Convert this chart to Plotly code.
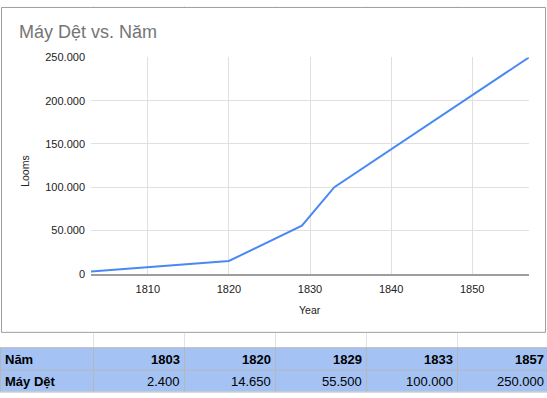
import plotly.graph_objects as go

# ---- data ----
years = [1803, 1820, 1829, 1833, 1857]
looms = [2400, 14650, 55500, 100000, 250000]
row_labels = ["Năm", "Máy Dệt"]
title_text = "Máy Dệt vs. Năm"
x_title = "Year"
y_title = "Looms"

W, H = 547, 398
FONT = "Liberation Sans, Arial, sans-serif"


def px(x):
    return x / W


def py(y):
    return 1 - y / H


def fmt_thousands(v):
    return f"{v:,}".replace(",", ".")


fig = go.Figure()
fig.add_trace(go.Scatter(
    x=years, y=looms, mode="lines",
    line=dict(color="#4a89f3", width=2),
    hoverinfo="skip", showlegend=False,
))

shapes = []
annotations = []

# chart border
shapes.append(dict(type="rect", xref="paper", yref="paper",
                   x0=px(1.5), x1=px(545.5), y0=py(336.5), y1=py(1.5),
                   line=dict(color="#9e9e9e", width=1), layer="below"))

# spreadsheet column boundaries (table)
col_edges = [93, 184, 275, 366, 457, 548]
row_edges = [337, 352, 375, 397.5]
# blue rows
shapes.append(dict(type="rect", xref="paper", yref="paper",
                   x0=px(0), x1=px(W), y0=py(row_edges[3]), y1=py(row_edges[1]),
                   fillcolor="#a4c2f4", line=dict(width=0), layer="below"))
for cx in col_edges[:-1]:
    shapes.append(dict(type="line", xref="paper", yref="paper",
                       x0=px(cx + 0.5), x1=px(cx + 0.5), y0=py(row_edges[0]), y1=py(row_edges[1]),
                       line=dict(color="#e2e2e2", width=1), layer="below"))
    shapes.append(dict(type="line", xref="paper", yref="paper",
                       x0=px(cx + 0.5), x1=px(cx + 0.5), y0=py(row_edges[1]), y1=py(row_edges[3]),
                       line=dict(color="#b7b7b7", width=1), layer="below"))
    shapes.append(dict(type="line", xref="paper", yref="paper",
                       x0=px(cx + 0.5), x1=px(cx + 0.5), y0=py(1), y1=py(0),
                       line=dict(color="#e2e2e2", width=1), layer="below"))
for ry in row_edges[1:]:
    shapes.append(dict(type="line", xref="paper", yref="paper",
                       x0=px(0), x1=px(W), y0=py(ry + 0.5), y1=py(ry + 0.5),
                       line=dict(color="#b7b7b7", width=1), layer="below"))
shapes.append(dict(type="line", xref="paper", yref="paper",
                   x0=px(0.5), x1=px(0.5), y0=py(row_edges[1]), y1=py(row_edges[3]),
                   line=dict(color="#b7b7b7", width=1), layer="below"))

# table text
row_centers = [(row_edges[1] + row_edges[2]) / 2 + 0.5, (row_edges[2] + row_edges[3]) / 2 + 0.5]
for i, lab in enumerate(row_labels):
    annotations.append(dict(xref="paper", yref="paper", x=px(4), y=py(row_centers[i]),
                            xanchor="left", yanchor="middle", showarrow=False, borderpad=0,
                            text=f"<b>{lab}</b>", font=dict(family=FONT, size=13, color="#000000")))
for j, (yr, lm) in enumerate(zip(years, looms)):
    right = min(col_edges[j + 1] - 3, W - 2)
    annotations.append(dict(xref="paper", yref="paper", x=px(right), y=py(row_centers[0]),
                            xanchor="right", yanchor="middle", showarrow=False, borderpad=0,
                            text=f"<b>{yr}</b>", font=dict(family=FONT, size=13, color="#000000")))
    annotations.append(dict(xref="paper", yref="paper", x=px(right), y=py(row_centers[1]),
                            xanchor="right", yanchor="middle", showarrow=False, borderpad=0,
                            text=fmt_thousands(lm), font=dict(family=FONT, size=13, color="#000000")))

# chart title
annotations.append(dict(xref="paper", yref="paper", x=px(18), y=py(27),
                        xanchor="left", yanchor="middle", showarrow=False, borderpad=0,
                        text=title_text, font=dict(family=FONT, size=18, color="#757575")))
# axis titles
annotations.append(dict(xref="paper", yref="paper", x=px(310), y=py(313),
                        xanchor="center", yanchor="middle", showarrow=False, borderpad=0,
                        text=x_title, font=dict(family=FONT, size=10.5, color="#222222")))
annotations.append(dict(xref="paper", yref="paper", x=px(25), y=py(170),
                        xanchor="center", yanchor="middle", showarrow=False, borderpad=0,
                        textangle=-90,
                        text=y_title, font=dict(family=FONT, size=10.5, color="#222222")))

fig.update_layout(
    width=W, height=H,
    margin=dict(l=0, r=0, t=0, b=0, pad=0),
    paper_bgcolor="white", plot_bgcolor="white",
    separators=",.",
    shapes=shapes, annotations=annotations,
    font=dict(family=FONT, size=11, color="#222222"),
    xaxis=dict(domain=[px(91), px(529)], range=[1803, 1857],
               tick0=1810, dtick=10, tickformat="d",
               showgrid=True, gridcolor="#e0e0e0", gridwidth=1,
               showline=True, linecolor="#9e9e9e", linewidth=2,
               zeroline=False, ticks="", ticklabelstandoff=4,
               tickfont=dict(family=FONT, size=11, color="#222222"),
               anchor="y"),
    yaxis=dict(domain=[py(276), py(53)], range=[0, 250000],
               tick0=0, dtick=50000, tickformat=",d",
               showgrid=True, gridcolor="#e0e0e0", gridwidth=1,
               zeroline=False, showline=False, ticks="", ticklabelstandoff=5,
               tickfont=dict(family=FONT, size=11, color="#222222"),
               anchor="x"),
)

fig.write_html(
    "out.html",
    config={"displayModeBar": False, "staticPlot": True},
    post_script="document.body.style.margin='0';document.body.style.padding='0';document.body.style.overflow='hidden';",
)
